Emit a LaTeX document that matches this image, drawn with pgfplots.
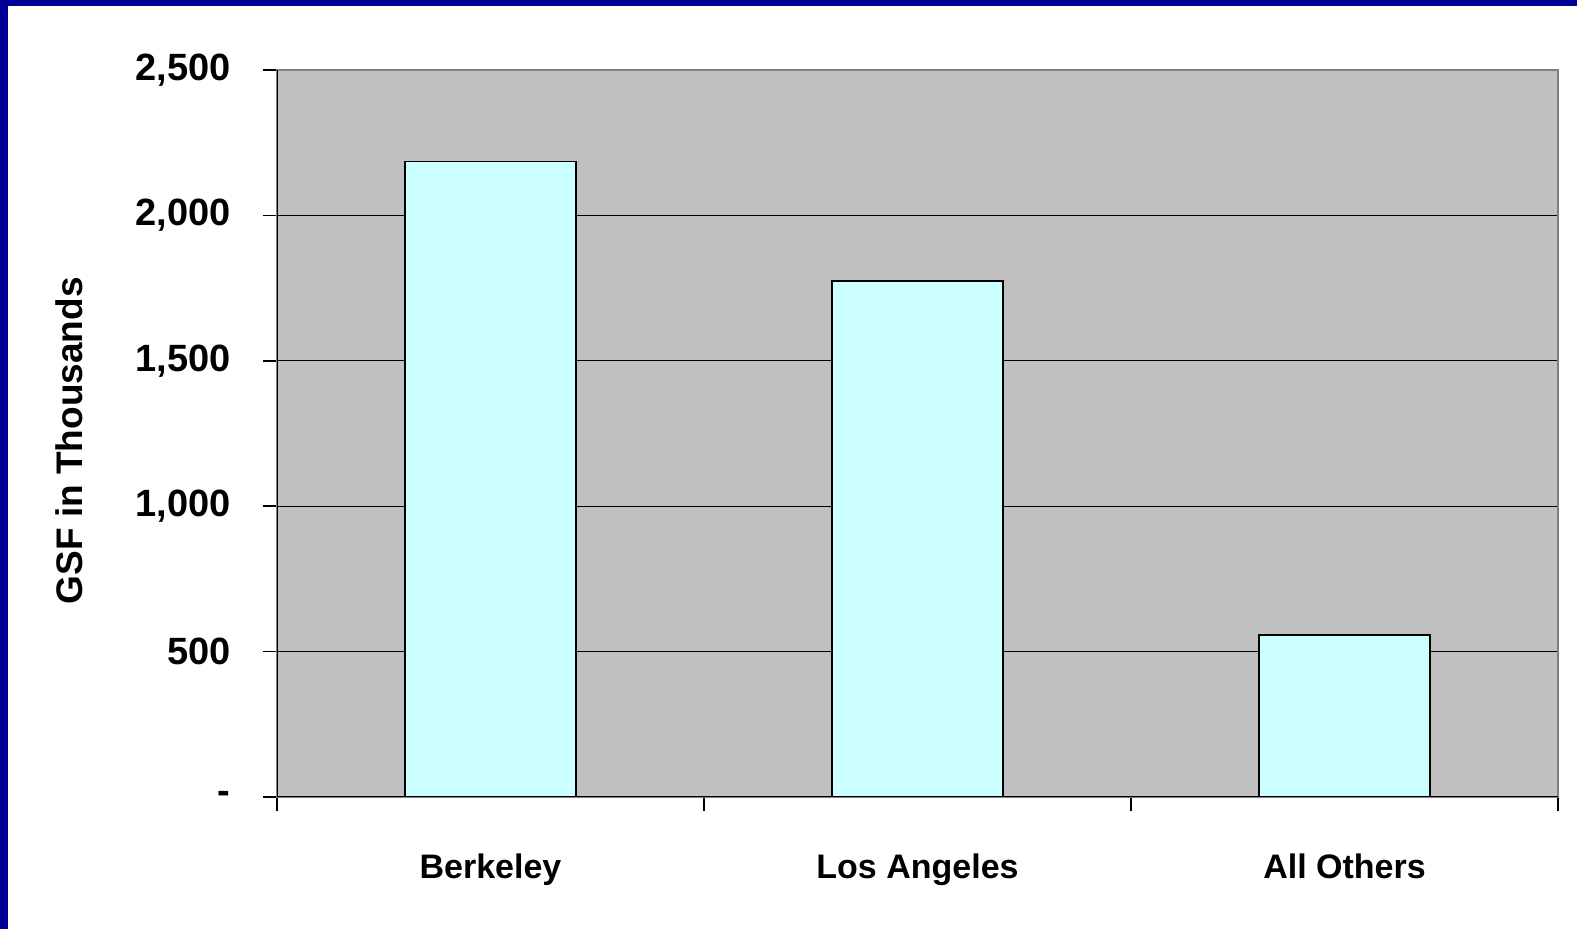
\documentclass[border=0pt]{standalone}
\usepackage{fontspec}
\setmainfont{Liberation Sans}
\usepackage{pgfplots}
\pgfplotsset{compat=1.18}
\definecolor{frameblue}{RGB}{0,0,153}
\definecolor{plotgray}{RGB}{192,192,192}
\definecolor{edgegray}{RGB}{128,128,128}
\definecolor{barcyan}{RGB}{204,255,255}

\begin{document}
\begin{tikzpicture}
\useasboundingbox (0,0) rectangle (788.5pt,464.5pt);
\fill[frameblue] (0,0) rectangle (788.5pt,464.5pt);
\fill[white] (3.75pt,0) rectangle (788.5pt,461.5pt);
\begin{axis}[
    at={(138.5pt,66pt)}, anchor=south west,
    scale only axis,
    width=640.5pt, height=363.5pt,
    xmin=0, xmax=3,
    ymin=0, ymax=2500,
    axis background/.style={fill=plotgray},
    axis line style={draw=edgegray, line width=1pt},
    ybar, bar width=0.4,
    xtick pos=bottom, ytick pos=left,
    ytick={0,500,1000,1500,2000,2500},
    yticklabels={-,500,{1,000},{1,500},{2,000},{2,500}},
    yticklabel style={font=\fontsize{19}{22}\selectfont\bfseries, anchor=east, inner sep=0pt, xshift=-16pt},
    ymajorgrids,
    major grid style={black, line width=0.6pt},
    tick align=outside,
    major tick length=7pt,
    tick style={black, line width=0.8pt},
    xtick={0,1,2,3},
    xticklabels={},
    extra x ticks={0.5,1.5,2.5},
    extra x tick labels={Berkeley,Los Angeles,All Others},
    extra x tick style={major tick length=0pt, grid=none,
        tick label style={font=\fontsize{17}{20}\selectfont\bfseries, anchor=base, inner sep=0pt, yshift=-41pt}},
    ylabel={GSF in Thousands},
    every axis y label/.style={at={(axis description cs:-0.162,0.49)}, rotate=90, anchor=center,
        font=\fontsize{18.5}{22}\selectfont\bfseries},
]
\addplot[fill=barcyan, draw=black, line width=0.8pt] coordinates {(0.5,2185) (1.5,1775) (2.5,558)};
\draw[black, line width=1pt] (rel axis cs:0,1) -- (rel axis cs:0,0) -- (rel axis cs:1,0);
\end{axis}
\end{tikzpicture}
\end{document}
